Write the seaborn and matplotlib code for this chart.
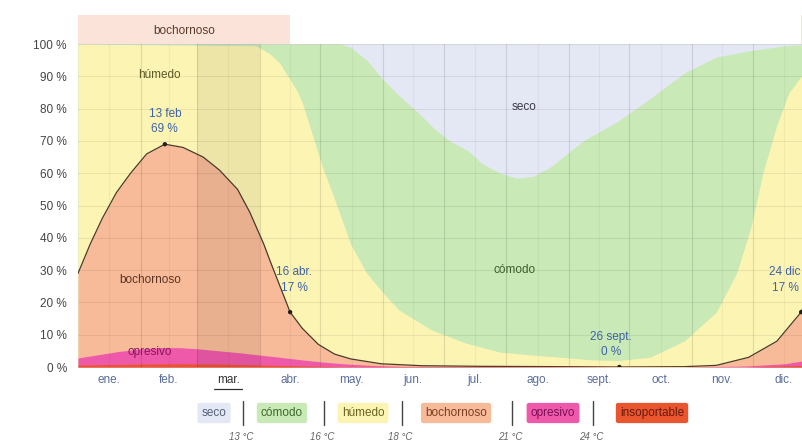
import numpy as np
import matplotlib
matplotlib.use("Agg")
import matplotlib.pyplot as plt
import seaborn as sns
from matplotlib.lines import Line2D

# ---------------- data (day of year, cumulative % of time) ----------------
months = ["ene.", "feb.", "mar.", "abr.", "may.", "jun.", "jul.", "ago.", "sept.", "oct.", "nov.", "dic."]
month_starts = [0, 31, 59, 90, 120, 151, 181, 212, 243, 273, 304, 334, 365]

# top of "cómodo" (lower edge of "seco")
comodo_days = [0, 90, 130, 135, 143, 151, 159, 168, 176, 184, 193, 200, 209, 217, 225, 234, 250, 267, 283, 300, 316, 333, 350, 365]
comodo_pct = [100, 100, 100, 99, 95, 89, 84, 79, 74, 70, 67, 63, 60, 58.5, 59, 62, 70, 76, 83, 91, 96, 98, 99.5, 100]

# top of "húmedo"
humedo_days = [0, 88, 95, 100, 104, 108, 111, 116, 121, 127, 135, 143, 151, 159, 175, 192, 209, 225, 239, 255, 267, 283, 300, 316, 326, 333, 339, 346, 352, 358, 365]
humedo_pct = [100, 99.5, 97, 94, 90, 86, 82, 72, 62, 52, 38, 29, 23, 17.6, 11.5, 7.4, 4.6, 3.7, 3, 2.2, 2, 3, 8, 17, 29, 43, 60, 75, 85, 90, 97]

# top of "bochornoso" (black line: muggy or worse)
muggy_days = [0, 6, 12, 19, 26, 34, 43, 52, 62, 70, 79, 85, 92, 95, 100, 105, 111, 119, 127, 135, 150, 170, 200, 240, 268, 300, 316, 332, 346, 358, 365]
muggy_pct = [29, 38, 46, 54, 60, 66, 69, 68, 65, 61, 55, 48, 38, 33, 25, 17, 12, 7, 4, 2.5, 1, 0.4, 0.2, 0.1, 0, 0.1, 0.5, 3, 8, 17, 28]

# top of "opresivo"
opresivo_days = [0, 10, 20, 30, 40, 50, 60, 70, 80, 90, 100, 111, 120, 131, 145, 160, 300, 330, 350, 365]
opresivo_pct = [2.8, 3.8, 4.8, 5.5, 6.0, 6.0, 5.6, 5.0, 4.4, 3.7, 3.0, 2.2, 1.6, 1.0, 0.5, 0.2, 0, 0.3, 1.0, 2.5]

# top of "insoportable"
insop_days = [0, 30, 50, 70, 100, 130, 330, 365]
insop_pct = [0.6, 0.9, 1.0, 0.9, 0.5, 0.1, 0, 0.6]

# annotated extremes
ann_days = [43, 105, 268, 358]
ann_pct = [69, 17, 0, 17]
ann_dates = ["13 feb", "16 abr.", "26 sept.", "24 dic"]

legend_names = ["seco", "cómodo", "húmedo", "bochornoso", "opresivo", "insoportable"]
legend_temps = ["13 °C", "16 °C", "18 °C", "21 °C", "24 °C"]

# ---------------- style ----------------
sns.set_theme(style="white")
plt.rcParams["font.family"] = ["Liberation Sans", "DejaVu Sans"]

C_SECO = "#e4e8f4"
C_COMODO = "#c9e9b7"
C_HUMEDO = "#fcf4b3"
C_BOCH = "#f8bb99"
C_OPRES = "#ee5aa9"
C_INSOP = "#e8552f"
C_ANN = "#3d63a8"

W, H = 803, 445
fig = plt.figure(figsize=(W / 100, H / 100), dpi=100)
px_per_day = 2.02
left_px, right_px = 78, 803
bottom_px, top_px = 367, 15
ax = fig.add_axes([left_px / W, (H - bottom_px) / H, (right_px - left_px) / W, (bottom_px - top_px) / H])
ax.set_xlim(0, (right_px - left_px) / px_per_day)
ax.set_ylim(0, (bottom_px - top_px) / 3.229)

# stacked areas drawn bottom-up by painter's order
ax.fill_between([0, 365], 0, 100, color=C_SECO, lw=0, zorder=1)
ax.fill_between(comodo_days, 0, comodo_pct, color=C_COMODO, lw=0, zorder=2)
ax.fill_between(humedo_days, 0, humedo_pct, color=C_HUMEDO, lw=0, zorder=3)
ax.fill_between(muggy_days, 0, muggy_pct, color=C_BOCH, lw=0, zorder=4)
ax.fill_between(opresivo_days, 0, opresivo_pct, color=C_OPRES, lw=0, zorder=5)
ax.fill_between(insop_days, 0, insop_pct, color=C_INSOP, lw=0, zorder=6)

# current month highlight (march)
ax.axvspan(month_starts[2], month_starts[3], ymin=0, ymax=100 / ax.get_ylim()[1], color="black", alpha=0.06, lw=0, zorder=7)

# grid
for v in range(10, 101, 10):
    ax.plot([0, 365], [v, v], color="black", alpha=0.07, lw=0.8, zorder=8)
for d in month_starts[1:-1]:
    ax.plot([d, d], [0, 100], color="black", alpha=0.11, lw=0.8, zorder=8)
for i in range(12):
    m = (month_starts[i] + month_starts[i + 1]) / 2
    ax.plot([m, m], [0, 100], color="black", alpha=0.04, lw=0.8, zorder=8)

# muggy line
sns.lineplot(x=muggy_days, y=muggy_pct, ax=ax, color="#4a3b2c", lw=0.9, zorder=9, estimator=None, sort=False)
sns.scatterplot(x=ann_days, y=ann_pct, ax=ax, color="#222222", s=10, zorder=10, edgecolor="none")

# muggier season band above the plot
ax.fill_between([0, ann_days[1]], 100, 109, color="#fce3d9", lw=0, zorder=1)
ax.fill_between([ann_days[3], 365], 100, 109, color="#fce3d9", lw=0, zorder=1)
ax.text((0 + ann_days[1]) / 2, 104.2, "bochornoso", ha="center", va="center", fontsize=8.5, color="#5a3a28", zorder=11)

# region labels
ax.text(40.5, 90.4, "húmedo", ha="center", va="center", fontsize=8.5, color="#5c5a25", zorder=11)
ax.text(221, 80.5, "seco", ha="center", va="center", fontsize=8.5, color="#3c3c48", zorder=11)
ax.text(216, 30, "cómodo", ha="center", va="center", fontsize=8.5, color="#3d5f2d", zorder=11)
ax.text(35.6, 27, "bochornoso", ha="center", va="center", fontsize=8.5, color="#5a3424", zorder=11)
ax.text(35.6, 4.6, "opresivo", ha="center", va="center", fontsize=8.5, color="#8a1462", zorder=11)

# extreme annotations
ann_pos = [(43, 78.2, 73.6), (107, 29.5, 24.5), (264, 9.2, 4.6), (350, 29.5, 24.5)]
for (xd, y1, y2), date, p in zip(ann_pos, ann_dates, ann_pct):
    ax.text(xd, y1, date, ha="center", va="center", fontsize=8.5, color=C_ANN, zorder=11, clip_on=True)
    ax.text(xd, y2, f"{p} %", ha="center", va="center", fontsize=8.5, color=C_ANN, zorder=11, clip_on=True)

# axes ticks
ax.set_yticks(range(0, 101, 10))
ax.set_yticklabels([f"{v} %" for v in range(0, 101, 10)], fontsize=8.5, color="#444444")
mids = [(month_starts[i] + month_starts[i + 1]) / 2 for i in range(12)]
ax.set_xticks(mids)
ax.set_xticklabels(months, fontsize=8.5, color="#5a6d9c")
ax.get_xticklabels()[2].set_color("#333333")
ax.tick_params(axis="both", length=0)
ax.tick_params(axis="y", pad=8)
ax.tick_params(axis="x", pad=5)
for s in ax.spines.values():
    s.set_visible(False)
ax.set_xlabel("")
ax.set_ylabel("")

# underline under "mar."
mx = left_px + mids[2] * px_per_day
fig.add_artist(Line2D([(mx - 14) / W, (mx + 14) / W], [(H - 389) / H, (H - 389) / H], color="#333333", lw=0.9))

# legend row
leg_colors = [C_SECO, C_COMODO, C_HUMEDO, C_BOCH, C_OPRES, C_INSOP]
leg_text_colors = ["#55607a", "#3d6a2a", "#6a6420", "#7a3e22", "#7a0f58", "#6a1a0a"]
leg_x = [214, 282, 363, 456, 553, 652]
leg_y = 413
for name, cx, fc, tc in zip(legend_names, leg_x, leg_colors, leg_text_colors):
    fig.text(cx / W, (H - leg_y) / H, name, ha="center", va="center", fontsize=8.5, color=tc,
             bbox=dict(boxstyle="round,pad=0.35,rounding_size=0.2", fc=fc, ec="none"))
sep_x = [243, 324, 402, 512, 593]
for sx, t in zip(sep_x, legend_temps):
    fig.add_artist(Line2D([sx / W, sx / W], [(H - 401) / H, (H - 425) / H], color="#444444", lw=1.0))
    fig.text((sx - 2) / W, (H - 437) / H, t, ha="center", va="center", fontsize=7, color="#666666", style="italic")

fig.savefig("out.png", dpi=100)
